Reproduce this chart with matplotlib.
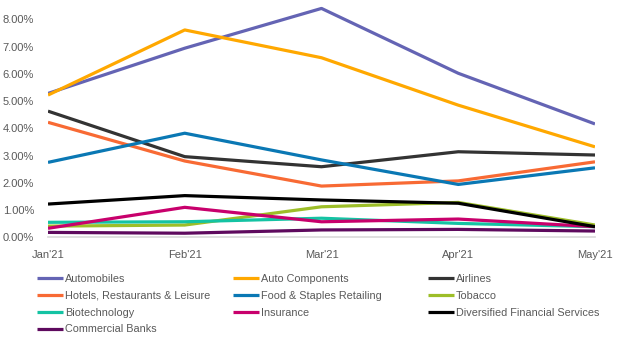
import matplotlib
matplotlib.use("Agg")
import matplotlib.pyplot as plt
from matplotlib.ticker import FuncFormatter

# data (share, %)
months = ["Jan'21", "Feb'21", "Mar'21", "Apr'21", "May'21"]
automobiles = [5.28, 6.94, 8.40, 6.02, 4.16]
auto_components = [5.22, 7.61, 6.59, 4.85, 3.32]
airlines = [4.63, 2.96, 2.59, 3.14, 3.02]
hotels = [4.22, 2.80, 1.88, 2.07, 2.77]
food_staples = [2.75, 3.82, 2.84, 1.94, 2.55]
tobacco = [0.41, 0.45, 1.12, 1.28, 0.45]
biotech = [0.55, 0.57, 0.70, 0.51, 0.39]
insurance = [0.33, 1.10, 0.57, 0.67, 0.39]
diversified = [1.22, 1.53, 1.37, 1.25, 0.39]
banks = [0.18, 0.15, 0.27, 0.29, 0.23]

series = [
    ("Automobiles", automobiles, "#6464B4"),
    ("Auto Components", auto_components, "#FFA800"),
    ("Airlines", airlines, "#333333"),
    ("Hotels, Restaurants & Leisure", hotels, "#F86A34"),
    ("Food & Staples Retailing", food_staples, "#0A78B4"),
    ("Tobacco", tobacco, "#9DBE28"),
    ("Biotechnology", biotech, "#14C3A3"),
    ("Insurance", insurance, "#C8006C"),
    ("Diversified Financial Services", diversified, "#000000"),
    ("Commercial Banks", banks, "#5E0A5E"),
]

plt.rcParams['font.family'] = ['Liberation Sans Narrow', 'Liberation Sans', 'DejaVu Sans']
txt = "#595959"

fig = plt.figure(figsize=(6.26, 3.48), dpi=100)
ax = fig.add_axes([48 / 626, 1 - 237.3 / 348, (595 - 48) / 626, (237.3 - 5.7) / 348])

x = list(range(len(months)))
lines = {}
for name, vals, col in series:
    ln, = ax.plot(x, vals, color=col, lw=2.3, solid_capstyle="butt", label=name)
    lines[name] = ln

ax.set_xlim(0, len(months) - 1)
ax.set_ylim(0, 8.5)
ax.set_yticks([0, 1, 2, 3, 4, 5, 6, 7, 8])
ax.yaxis.set_major_formatter(FuncFormatter(lambda v, p: f"{v:.2f}%"))
ax.set_xticks(x)
ax.set_xticklabels(months)
ax.tick_params(axis="both", length=0, labelsize=8, colors=txt)
ax.tick_params(axis="y", pad=10)
ax.tick_params(axis="x", pad=9)
for s in ["top", "right", "left"]:
    ax.spines[s].set_visible(False)
ax.spines["bottom"].set_color("#D9D9D9")
ax.spines["bottom"].set_linewidth(1.2)

# legend, three fixed-width columns like the original
cols = [
    ["Automobiles", "Hotels, Restaurants & Leisure", "Biotechnology", "Commercial Banks"],
    ["Auto Components", "Food & Staples Retailing", "Insurance"],
    ["Airlines", "Tobacco", "Diversified Financial Services"],
]
xs = [34, 230, 425]
for cx, names in zip(xs, cols):
    fig.legend([lines[n] for n in names], names, loc="upper left",
               bbox_to_anchor=(cx / 626, 1 - 271 / 348), frameon=False,
               fontsize=7.8, labelcolor=txt, handlelength=2.4, handletextpad=0.15,
               labelspacing=0.62, borderaxespad=0, borderpad=0.3)

fig.savefig("out.png", dpi=100, facecolor="white")
